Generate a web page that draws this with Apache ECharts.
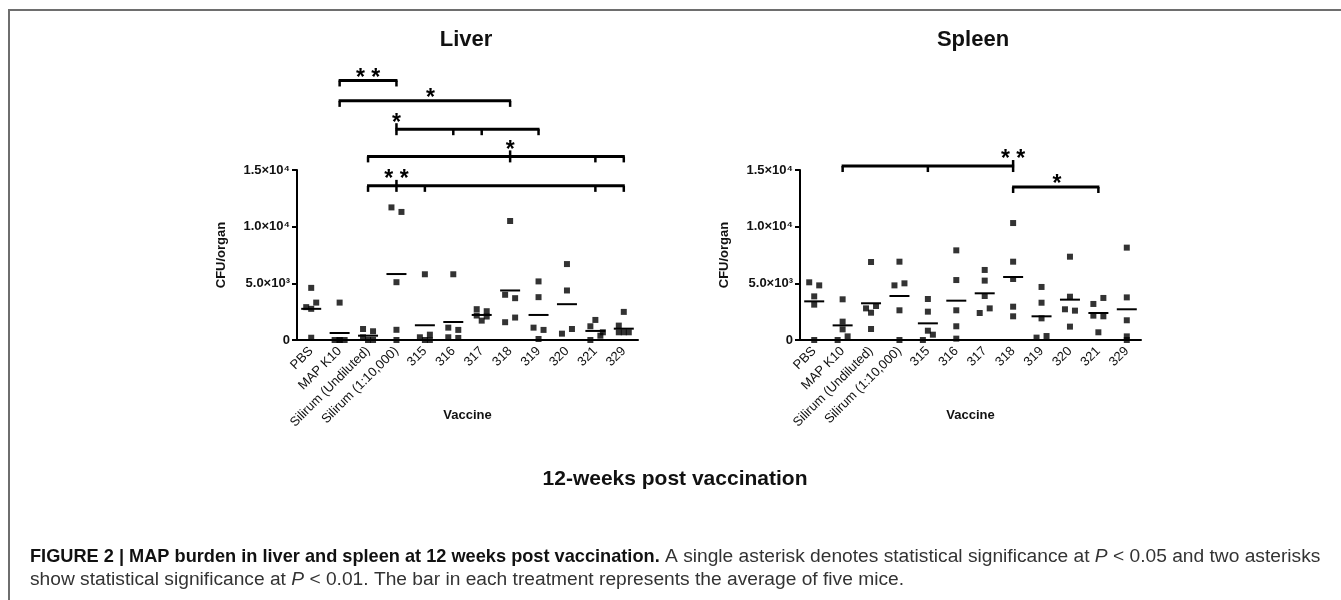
<!DOCTYPE html>
<html>
<head>
<meta charset="utf-8">
<script src="https://cdn.jsdelivr.net/npm/echarts@6/dist/echarts.min.js"></script>
<style>
html,body{margin:0;padding:0;background:#fff;}
#chart{width:1341px;height:600px;}
</style>
</head>
<body>
<div id="chart"></div>
<script>
// ---------------- DATA ----------------
const categories = ['PBS','MAP K10','Silirum (Undiluted)','Silirum (1:10,000)','315','316','317','318','319','320','321','329'];
const yTickLabels = {0:'0', 5000:'5.0×10³', 10000:'1.0×10⁴', 15000:'1.5×10⁴'};

// Liver CFU/organ, five mice per group (one hidden in 320)
const liverValues = [
  [4600, 3300, 2900, 2750, 200],
  [3300, 0, 0, 0, 0],
  [970, 770, 240, 0, 0],
  [11700, 11300, 5100, 900, 0],
  [5800, 470, 240, 0, 0],
  [5800, 1090, 890, 240, 180],
  [2720, 2540, 2160, 1710, 2070],
  [10500, 3990, 3690, 1980, 1570],
  [5170, 3780, 1090, 890, 90],
  [6700, 4370, 970, 560],
  [1770, 1210, 680, 380, 0],
  [2480, 1270, 680, 680, 680]
];
const liverJitter = [
  [0, 1, -1, 0, 0],
  [0, -1, 0, 1, 0],
  [-1, 1, -1, 0, 1],
  [-1, 1, 0, 0, 0],
  [0, 1, -1, 0, 1],
  [0, -1, 1, -1, 1],
  [-1, 1, -1, 0, 1],
  [0, -1, 1, 1, -1],
  [0, 0, -1, 1, 0],
  [0, 0, 1, -1],
  [0, -1, 1.5, 1, -1],
  [0, -1, -1, 0, 1]
];
const liverMeans = [2750, 620, 380, 5820, 1300, 1590, 2210, 4370, 2210, 3160, 800, 1000];

// Spleen CFU/organ
const spleenValues = [
  [5090, 4820, 3850, 3120, 0],
  [3590, 1620, 940, 320, 0],
  [6880, 2790, 3000, 2410, 970],
  [6910, 4820, 5000, 2620, 0],
  [3620, 2500, 820, 470, 0],
  [7910, 5290, 2620, 1210, 120],
  [6180, 5240, 3880, 2790, 2380],
  [10320, 6910, 5380, 2940, 2090],
  [4680, 3290, 1910, 350, 210],
  [7350, 3820, 2710, 2590, 1180],
  [3180, 3710, 2150, 2090, 680],
  [8150, 3760, 1740, 320, 0]
];
const spleenJitter = [
  [-1, 1, 0, 0, 0],
  [0, 0, 0, 1, -1],
  [0, -1, 1, 0, 0],
  [0, -1, 1, 0, 0],
  [0, 0, 0, 1, -1],
  [0, 0, 0, 0, 0],
  [0, 0, 0, 1, -1],
  [0, 0, 0, 0, 0],
  [0, 0, 0, 1, -1],
  [0, 0, -1, 1, 0],
  [-1, 1, -1, 1, 0],
  [0, 0, 0, 0, 0]
];
const spleenMeans = [3410, 1290, 3240, 3880, 1470, 3470, 4120, 5560, 2090, 3560, 2380, 2710];

// Significance brackets (category indices, level in CFU units)
const liverBracketLevels = [22900, 21100, 18600, 16200, 13600];
const liverBracketSpans = [[1,3],[1,7],[3,8],[2,11],[2,11]];
const liverBracketTicks = [[1,3],[1,7],[3,5,6,8],[2,7,10,11],[2,3,4,10,11]];
const liverBracketStars = ['* *','*','*','*','* *'];
const liverBracketStarAt = [2, 4.2, 3, 7, 3];

const spleenBracketLevels = [15350, 13500];
const spleenBracketSpans = [[1,7],[7,10]];
const spleenBracketTicks = [[1,4,7],[7,10]];
const spleenBracketStars = ['* *','*'];
const spleenBracketStarAt = [7, 8.54];

// ---------------- BUILD ----------------
const FONT = '"Liberation Sans", Arial, Helvetica, sans-serif';

function pointData(values, jitter) {
  const out = [];
  values.forEach((grp, i) => grp.forEach((v, j) => {
    out.push({ value: [i, v], symbolOffset: [jitter[i][j] * 5, 0] });
  }));
  return out;
}
function meanData(means) { return means.map((m, i) => [i, m]); }

function meanRender(params, api) {
  const p = api.coord([api.value(0), api.value(1)]);
  return { type: 'line', shape: { x1: p[0] - 10, y1: p[1], x2: p[0] + 10, y2: p[1] },
           style: { stroke: '#000', lineWidth: 2 } };
}

function xAt(api, idx, y) {
  const i0 = Math.floor(idx), f = idx - i0;
  const a = api.coord([i0, y]);
  if (f === 0) return a;
  const b = api.coord([i0 + 1, y]);
  return [a[0] + (b[0] - a[0]) * f, a[1]];
}

function bracketRenderer(levels, spans, ticks, stars, starAt) {
  return function (params, api) {
    const k = params.dataIndex;
    const y = levels[k];
    const s = xAt(api, spans[k][0], y), e = xAt(api, spans[k][1], y);
    const by = s[1];
    const ch = [];
    ch.push({ type: 'line', shape: { x1: s[0] - 1, y1: by, x2: e[0] + 1, y2: by }, style: { stroke: '#000', lineWidth: 3 } });
    ticks[k].forEach(t => {
      const p = xAt(api, t, y);
      ch.push({ type: 'line', shape: { x1: p[0], y1: by, x2: p[0], y2: by + 6 }, style: { stroke: '#000', lineWidth: 2.5 } });
    });
    const sp = xAt(api, starAt[k], y);
    const up = ticks[k].indexOf(starAt[k]) >= 0;
    if (up) ch.push({ type: 'line', shape: { x1: sp[0], y1: by, x2: sp[0], y2: by - 6 }, style: { stroke: '#000', lineWidth: 2.5 } });
    ch.push({ type: 'text', style: { text: stars[k], x: sp[0], y: by - (up ? 13 : 9) + 7,
      textAlign: 'center', textVerticalAlign: 'middle', font: 'bold 23px ' + FONT, fill: '#000' } });
    return { type: 'group', children: ch };
  };
}

const axisLineStyle = { color: '#000', width: 2 };

function xAxisCfg(gridIndex) {
  return {
    type: 'category', gridIndex, data: categories, boundaryGap: true,
    axisLine: { lineStyle: axisLineStyle },
    axisTick: { alignWithLabel: true, length: 5, lineStyle: { color: '#000', width: 2 } },
    axisLabel: { rotate: 45, interval: 0, fontSize: 13, color: '#111', fontFamily: FONT, margin: 9 },
    name: 'Vaccine', nameLocation: 'middle', nameGap: 69, nameMoveOverlap: false,
    nameTextStyle: { fontSize: 13, fontWeight: 'bold', color: '#111', fontFamily: FONT },
    splitLine: { show: false }
  };
}
function yAxisCfg(gridIndex) {
  return {
    type: 'value', gridIndex, min: 0, max: 15000, interval: 5000,
    axisLine: { show: true, lineStyle: axisLineStyle },
    axisTick: { show: true, length: 5, lineStyle: { color: '#000', width: 2 } },
    axisLabel: { formatter: v => yTickLabels[v], fontSize: 13, fontWeight: 'bold', color: '#111', fontFamily: FONT, margin: 7 },
    splitLine: { show: false },
    name: 'CFU/organ', nameLocation: 'middle', nameGap: 69, nameRotate: 90,
    nameTextStyle: { fontSize: 13, fontWeight: 'bold', color: '#111', fontFamily: FONT }
  };
}

const option = {
  animation: false,
  backgroundColor: '#fff',
  title: [
    { text: 'Liver', left: 461, top: 24, textAlign: 'center', textStyle: { fontSize: 22, fontWeight: 'bold', color: '#111', fontFamily: FONT } },
    { text: 'Spleen', left: 968, top: 24, textAlign: 'center', textStyle: { fontSize: 22, fontWeight: 'bold', color: '#111', fontFamily: FONT } },
    { text: '12-weeks post vaccination', left: 670, top: 464, textAlign: 'center', textStyle: { fontSize: 21, fontWeight: 'bold', color: '#111', fontFamily: FONT } },
    { text: '{b|FIGURE 2 | MAP burden in liver and spleen at 12 weeks post vaccination.}{n| A single asterisk denotes statistical significance at }{i|P}{n| < 0.05 and two asterisks}\n{n|show statistical significance at }{i|P}{n| < 0.01. The bar in each treatment represents the average of five mice.}',
      left: 25, top: 540,
      textStyle: { fontFamily: FONT, fontWeight: 'normal', rich: {
        b: { fontSize: 18.2, fontWeight: 'bold', color: '#111', fontFamily: FONT, lineHeight: 23 },
        n: { fontSize: 19.2, fontWeight: 'normal', color: '#333', fontFamily: FONT, lineHeight: 23 },
        i: { fontSize: 19.2, fontWeight: 'normal', fontStyle: 'italic', color: '#333', fontFamily: FONT, lineHeight: 23 }
      } } }
  ],
  graphic: [
    { type: 'line', shape: { x1: 8, y1: 10, x2: 1341, y2: 10 }, style: { stroke: '#6e6e6e', lineWidth: 2 } },
    { type: 'line', shape: { x1: 9, y1: 10, x2: 9, y2: 600 }, style: { stroke: '#6e6e6e', lineWidth: 2 } }
  ],
  grid: [
    { left: 297, top: 170, width: 341, height: 170 },
    { left: 800, top: 170, width: 341, height: 170 }
  ],
  xAxis: [xAxisCfg(0), xAxisCfg(1)],
  yAxis: [yAxisCfg(0), yAxisCfg(1)],
  series: [
    { type: 'scatter', xAxisIndex: 0, yAxisIndex: 0, symbol: 'rect', symbolSize: 6, itemStyle: { color: '#000' }, data: pointData(liverValues, liverJitter) },
    { type: 'scatter', xAxisIndex: 1, yAxisIndex: 1, symbol: 'rect', symbolSize: 6, itemStyle: { color: '#000' }, data: pointData(spleenValues, spleenJitter) },
    { type: 'custom', xAxisIndex: 0, yAxisIndex: 0, renderItem: meanRender, data: meanData(liverMeans), encode: { x: 0, y: 1 } },
    { type: 'custom', xAxisIndex: 1, yAxisIndex: 1, renderItem: meanRender, data: meanData(spleenMeans), encode: { x: 0, y: 1 } },
    { type: 'custom', xAxisIndex: 0, yAxisIndex: 0, clip: false,
      renderItem: bracketRenderer(liverBracketLevels, liverBracketSpans, liverBracketTicks, liverBracketStars, liverBracketStarAt),
      data: liverBracketLevels.map((l, k) => [liverBracketSpans[k][0], 0]), encode: { x: 0, y: 1 } },
    { type: 'custom', xAxisIndex: 1, yAxisIndex: 1, clip: false,
      renderItem: bracketRenderer(spleenBracketLevels, spleenBracketSpans, spleenBracketTicks, spleenBracketStars, spleenBracketStarAt),
      data: spleenBracketLevels.map((l, k) => [spleenBracketSpans[k][0], 0]), encode: { x: 0, y: 1 } }
  ]
};

const chart = echarts.init(document.getElementById('chart'), null, { renderer: 'canvas' });
chart.setOption(option);
</script>
</body>
</html>
